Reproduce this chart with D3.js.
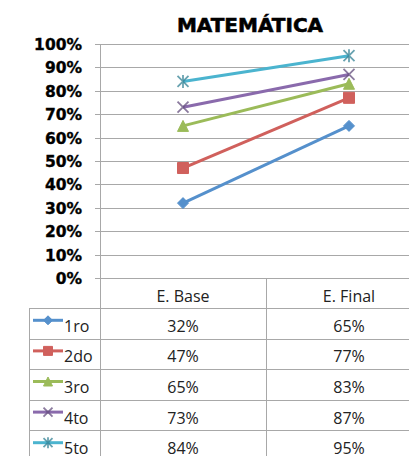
<!DOCTYPE html>
<meta charset="utf-8">
<body style="margin:0;background:#fff">
<style>
  .tick-lbl { font-family: "DejaVu Sans", sans-serif; font-weight: bold; font-size: 15.5px; fill: #000; stroke: #000; stroke-width: 0.35px; }
  .title { font-family: "DejaVu Sans", sans-serif; font-weight: bold; font-size: 20px; fill: #000; stroke: #000; stroke-width: 0.6px; }
  .cell { font-family: "Open Sans", sans-serif; font-size: 16px; fill: #222; }
  .grid line { stroke: #a8a8a8; stroke-width: 1px; }
</style>
<svg width="409" height="456"></svg>
<script src="https://d3js.org/d3.v7.min.js"></script>
<script>
var categories = ["E. Base", "E. Final"];
var seriesNames = ["1ro", "2do", "3ro", "4to", "5to"];
var baseVals  = [0.32, 0.47, 0.65, 0.73, 0.84];
var finalVals = [0.65, 0.77, 0.83, 0.87, 0.95];
var yTicks = [0, 0.1, 0.2, 0.3, 0.4, 0.5, 0.6, 0.7, 0.8, 0.9, 1];
var colors = ["#5590cc", "#d0605c", "#9bbb59", "#8a6aac", "#4bb4cf"];
var markers = ["diamond", "square", "triangle", "x", "star"];

var svg = d3.select("svg");

var x = d3.scaleBand().domain(categories).range([100, 432]);
var y = d3.scaleLinear().domain([0, 1]).range([278, 44]);
var rowH = 30.6, headTop = 278, bodyTop = 308;

svg.append("text").attr("class", "title")
   .attr("x", 250).attr("y", 32).attr("text-anchor", "middle")
   .text("MATEMÁTICA");

// gridlines + ticks
var grid = svg.append("g").attr("class", "grid");
grid.selectAll("line").data(yTicks).enter().append("line")
    .attr("x1", 95).attr("x2", 409)
    .attr("y1", function(d) { return Math.round(y(d)) + 0.5; })
    .attr("y2", function(d) { return Math.round(y(d)) + 0.5; });

svg.append("g").selectAll("text").data(yTicks).enter().append("text")
   .attr("class", "tick-lbl")
   .attr("x", 82).attr("text-anchor", "end")
   .attr("y", function(d) { return y(d) + 6; })
   .text(function(d) { return d3.format(".0%")(d); });

// table lines
var tl = svg.append("g").attr("class", "grid");
tl.append("line").attr("x1", 100.5).attr("x2", 100.5).attr("y1", y(1)).attr("y2", 456);
tl.append("line").attr("x1", 266.5).attr("x2", 266.5).attr("y1", headTop).attr("y2", 456);
tl.append("line").attr("x1", 29.5).attr("x2", 29.5).attr("y1", bodyTop).attr("y2", 456);
seriesNames.forEach(function(s, i) {
  var yy = Math.round(bodyTop + i * rowH) + 0.5;
  tl.append("line").attr("x1", 29).attr("x2", 409).attr("y1", yy).attr("y2", yy);
});

// header
svg.append("g").selectAll("text").data(categories).enter().append("text")
   .attr("class", "cell").attr("text-anchor", "middle")
   .attr("x", function(d) { return x(d) + x.bandwidth() / 2; })
   .attr("y", 302).text(function(d) { return d; });

function markerPath(type, sz) {
  var h = sz / 2;
  if (type == "diamond") return "M0," + (-h) + "L" + h + ",0L0," + h + "L" + (-h) + ",0Z";
  if (type == "square") return "M" + (-h) + "," + (-h) + "h" + sz + "v" + sz + "h" + (-sz) + "Z";
  if (type == "triangle") return "M0," + (-h) + "L" + h + "," + h + "L" + (-h) + "," + h + "Z";
  if (type == "x") return "M" + (-h) + "," + (-h) + "L" + h + "," + h + "M" + (-h) + "," + h + "L" + h + "," + (-h);
  return "M" + (-h) + "," + (-h) + "L" + h + "," + h + "M" + (-h) + "," + h + "L" + h + "," + (-h) + "M0," + (-h - 1) + "V" + (h + 1);
}
function drawMarker(g, i, cx, cy, sz) {
  var t = markers[i];
  var filled = (t == "diamond" || t == "square" || t == "triangle");
  g.append("path").attr("d", markerPath(t, sz))
   .attr("transform", "translate(" + cx + "," + cy + ")")
   .attr("fill", filled ? colors[i] : "none")
   .attr("stroke", filled ? colors[i] : d3.color(colors[i]).darker(0.9).copy({opacity: 0.75}))
   .attr("stroke-width", filled ? 1 : 1.8);
}

var xc = function(c) { return x(c) + x.bandwidth() / 2; };
var lines = svg.append("g");
seriesNames.forEach(function(s, i) {
  var vals = [baseVals[i], finalVals[i]];
  var pts = categories.map(function(c, k) { return [xc(c), y(vals[k])]; });
  lines.append("path").attr("d", d3.line()(pts))
       .attr("fill", "none").attr("stroke", colors[i]).attr("stroke-width", 3);
  pts.forEach(function(p) { drawMarker(lines, i, p[0], p[1], 11); });

  // table row
  var cy = bodyTop + i * rowH + rowH / 2;
  svg.append("line").attr("x1", 33).attr("x2", 63).attr("y1", cy - 3).attr("y2", cy - 3)
     .attr("stroke", colors[i]).attr("stroke-width", 3);
  drawMarker(svg, i, 48, cy - 3, 9);
  svg.append("text").attr("class", "cell").attr("x", 64).attr("y", cy + 8.5).text(s);
  categories.forEach(function(c, k) {
    svg.append("text").attr("class", "cell").attr("text-anchor", "middle")
       .attr("x", xc(c)).attr("y", cy + 8.5)
       .text(d3.format(".0%")(vals[k]));
  });
});
</script>
</body>
